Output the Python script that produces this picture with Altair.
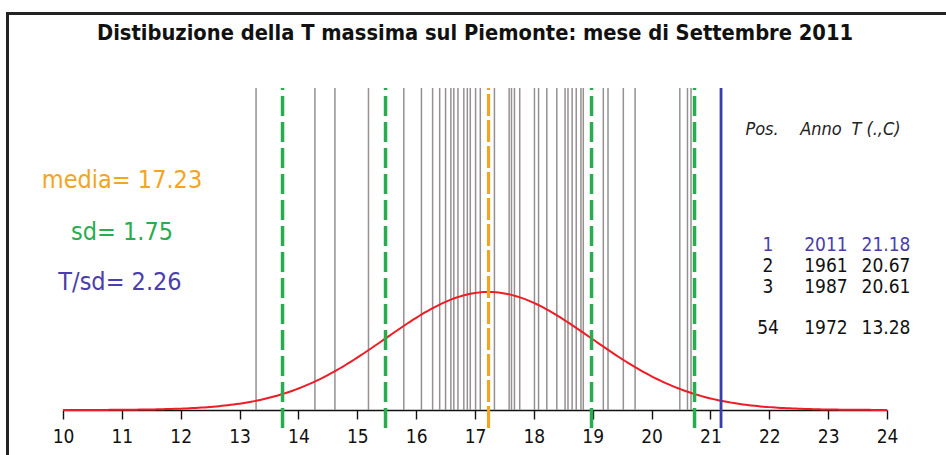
import math
import altair as alt
import pandas as pd

# Monthly maximum temperature, September, Piedmont (one value per year)
temps = [13.28, 14.28, 14.62, 15.19, 15.79, 16.09, 16.28, 16.40, 16.50, 16.59,
         16.64, 16.71, 16.81, 16.87, 16.92, 17.01, 17.09, 17.33, 17.58, 17.62,
         17.67, 17.76, 18.01, 18.08, 18.22, 18.39, 18.53, 18.58, 18.65, 18.72,
         18.80, 18.84, 19.18, 19.26, 19.52, 19.72, 20.48, 20.61, 20.67]
t_2011 = 21.18
media = 17.23
sd = 1.75
t_sd = 2.26

# Ranking table
tab_pos = ["1", "2", "3", "54"]
tab_anno = ["2011", "1961", "1987", "1972"]
tab_val = ["21.18", "20.67", "20.61", "13.28"]

x_ticks = list(range(10, 25))

title_text = "Distibuzione della T massima sul Piemonte: mese di Settembre 2011"

FONT = "Liberation Sans Narrow, Arial Narrow, DejaVu Sans Condensed, Liberation Sans, sans-serif"
GREY = "#969090"
GREEN = "#27ad4e"
ORANGE = "#f4a520"
BLUE = "#3440b0"
TXT_BLUE = "#4a3ea8"

peak = 1.0 / (sd * math.sqrt(2 * math.pi))
y_top = peak * 322 / 118          # top of the plotting region
y_low = -peak * 18 / 118          # reference lines run a bit below the axis

xs = alt.Scale(domain=[10, 24], nice=False, zero=False)
ys = alt.Scale(domain=[0, y_top], nice=False, zero=False)
x_axis = alt.Axis(values=x_ticks, title=None, grid=False, format="d",
                  domainColor="#111", domainWidth=1.6, tickColor="#111",
                  tickWidth=1.4, tickSize=9, labelFontSize=19,
                  labelFont=FONT, labelColor="#111", labelPadding=8,
                  labelFlush=False)


def vlines(values, lo, **mark):
    df = pd.DataFrame({"v": values})
    return alt.Chart(df).transform_calculate(
        lo=str(lo), hi=str(y_top)
    ).mark_rule(**mark).encode(
        x=alt.X("v:Q", scale=xs, axis=x_axis),
        y=alt.Y("lo:Q", scale=ys, axis=None),
        y2="hi:Q",
    )


grey = vlines(temps, 0, color=GREY, strokeWidth=1.5)
green = vlines([media - 2 * sd, media - sd, media + sd, media + 2 * sd], y_low,
               color=GREEN, strokeWidth=3.5, strokeDash=[20, 6])
orange = vlines([media], y_low, color=ORANGE, strokeWidth=3.2, strokeDash=[22, 4])
blue = vlines([t_2011], y_low, color=BLUE, strokeWidth=2.8)

# Fitted normal density with the sample mean and standard deviation
curve = alt.Chart(alt.sequence(10, 24.001, 0.05, as_="t")).transform_calculate(
    dens=f"densityNormal(datum.t, {media}, {sd})"
).mark_line(color="#ee1c25", strokeWidth=2).encode(
    x=alt.X("t:Q", scale=xs, axis=x_axis),
    y=alt.Y("dens:Q", scale=ys, axis=None),
)


def label(text, x, y, color, size, **kw):
    return alt.Chart(pd.DataFrame({"s": [text]})).mark_text(
        font=FONT, fontSize=size, color=color, baseline="middle", **kw
    ).encode(text="s:N", x=alt.value(x), y=alt.value(y))


# frame lines along the top and left edges of the figure, drawn as thin rects
one = pd.DataFrame({"k": [0]})
frame_top = alt.Chart(one).mark_rect(color="#222").encode(
    x=alt.value(-57), x2=alt.value(884), y=alt.value(-76), y2=alt.value(-73))
frame_left = alt.Chart(one).mark_rect(color="#222").encode(
    x=alt.value(-57), x2=alt.value(-54), y=alt.value(-76), y2=alt.value(368))

layers = [frame_top, frame_left, grey, curve, green, orange, blue]

# title
layers.append(label(title_text, 412, -55, "#111", 21.7, fontWeight="bold", align="center"))

# summary statistics
layers.append(label(f"media= {media:.2f}", 59, 92, ORANGE, 25, align="center"))
layers.append(label(f"sd= {sd:.2f}", 59, 144, GREEN, 25, align="center"))
layers.append(label(f"T/sd= {t_sd:.2f}", 57, 194, TXT_BLUE, 25, align="center"))

# ranking table
for txt, xc in zip(["Pos.", "Anno", "T (.,C)"], [699, 758, 813]):
    layers.append(label(txt, xc, 42, "#222", 18, fontStyle="italic", align="center"))
row_y = [157, 178, 199, 240]
for i in range(len(tab_pos)):
    c = TXT_BLUE if i == 0 else "#111"
    layers.append(label(tab_pos[i], 705, row_y[i], c, 19, align="center"))
    layers.append(label(tab_anno[i], 763, row_y[i], c, 19, align="center"))
    layers.append(label(tab_val[i], 823, row_y[i], c, 19, align="center"))

chart = alt.layer(*layers).properties(
    width=824, height=322,
    autosize=alt.AutoSizeParams(type="none"),
    padding={"left": 63, "top": 88, "right": 59, "bottom": 45},
    background="white",
).configure_view(stroke=None)

chart.save("out.html", embed_options={"renderer": "svg", "actions": False})
